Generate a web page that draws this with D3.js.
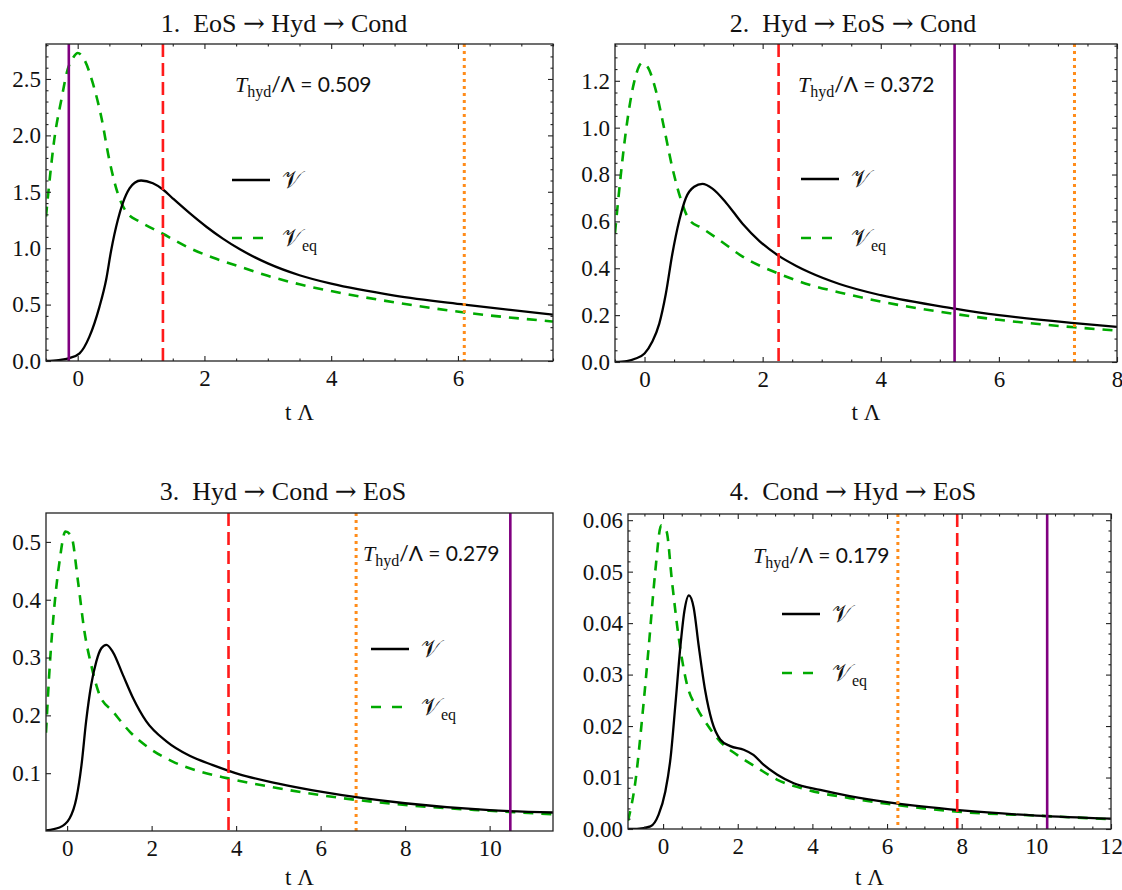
<!DOCTYPE html>
<html>
<head>
<meta charset="utf-8">
<script src="https://cdn.jsdelivr.net/npm/d3@7"></script>
<style>
body { margin: 0; background: #fff; }
svg text { font-family: "Liberation Serif", "DejaVu Serif", serif; fill: #111; }
</style>
</head>
<body>
<svg id="chart" width="1122" height="890"></svg>
<script>
// panel titles (steps in order) and the T_hyd / Lambda values
var titleNums = ["1.", "2.", "3.", "4."];
var titleSteps = [["EoS", "Hyd", "Cond"], ["Hyd", "EoS", "Cond"], ["Hyd", "Cond", "EoS"], ["Cond", "Hyd", "EoS"]];
var thyd = ["0.509", "0.372", "0.279", "0.179"];

// times (t Lambda) of the vertical markers
var eosTimes  = [-0.14, 5.25, 10.49, 10.29];   // purple, solid
var hydTimes  = [1.345, 2.27, 3.82, 7.88];     // red, dashed
var condTimes = [6.10, 7.28, 6.84, 6.29];      // orange, dotted

// axis ranges and tick labels
var xDomains = [[-0.5, 7.5], [-0.5, 8], [-0.5, 11.5], [-0.94, 12]];
var yDomains = [[0, 2.81], [0, 1.357], [0, 0.55], [0, 0.0612]];
var xTicks = [[0, 2, 4, 6], [0, 2, 4, 6, 8], [0, 2, 4, 6, 8, 10], [0, 2, 4, 6, 8, 10, 12]];
var yTicks = [[0, 0.5, 1, 1.5, 2, 2.5], [0, 0.2, 0.4, 0.6, 0.8, 1.0, 1.2],
              [0.1, 0.2, 0.3, 0.4, 0.5], [0, 0.01, 0.02, 0.03, 0.04, 0.05, 0.06]];
var yFormats = [".1f", ".1f", ".1f", ".2f"];

// panel 1 curves
var tV1  = [-0.5, -0.3, -0.14, 0.03, 0.185, 0.343, 0.449, 0.528, 0.633, 0.712, 0.818, 0.9, 1.0, 1.187, 1.345, 1.503, 1.767, 2.03, 2.29, 2.56, 3.0, 3.5, 4.0, 5.0, 6.1, 7.5];
var V1   = [0.0, 0.008, 0.024, 0.068, 0.216, 0.48, 0.72, 0.98, 1.25, 1.40, 1.53, 1.58, 1.60, 1.575, 1.52, 1.44, 1.31, 1.19, 1.085, 0.99, 0.865, 0.76, 0.685, 0.58, 0.50, 0.41];
var tEq1 = [-0.5, -0.44, -0.37, -0.26, -0.16, -0.07, 0.0, 0.106, 0.24, 0.37, 0.50, 0.63, 0.77, 0.98, 1.335, 1.77, 2.14, 2.51, 3.0, 3.5, 4.0, 5.0, 6.1, 7.5];
var Eq1  = [1.28, 1.62, 1.96, 2.31, 2.58, 2.69, 2.73, 2.67, 2.46, 2.17, 1.78, 1.49, 1.32, 1.235, 1.13, 1.0, 0.915, 0.845, 0.755, 0.68, 0.62, 0.52, 0.43, 0.35];

// panel 2 curves
var tV2  = [-0.5, -0.3, -0.15, 0.0, 0.13, 0.25, 0.36, 0.47, 0.59, 0.70, 0.84, 0.98, 1.15, 1.38, 1.66, 1.95, 2.26, 2.57, 2.79, 3.3, 4.0, 5.25, 6.0, 7.28, 8.0];
var V2   = [0.0, 0.004, 0.015, 0.036, 0.086, 0.164, 0.29, 0.46, 0.606, 0.70, 0.748, 0.76, 0.74, 0.68, 0.59, 0.515, 0.455, 0.41, 0.383, 0.333, 0.285, 0.228, 0.20, 0.166, 0.15];
var tEq2 = [-0.5, -0.43, -0.32, -0.18, -0.04, 0.05, 0.19, 0.33, 0.47, 0.62, 0.76, 0.98, 1.27, 1.66, 2.26, 2.79, 3.3, 4.0, 5.25, 6.0, 7.28, 8.0];
var Eq2  = [0.55, 0.73, 0.976, 1.19, 1.276, 1.26, 1.16, 1.0, 0.83, 0.69, 0.606, 0.57, 0.52, 0.45, 0.378, 0.33, 0.297, 0.258, 0.205, 0.18, 0.148, 0.134];

// panel 3 curves
var tV3  = [-0.5, -0.18, 0.06, 0.22, 0.34, 0.45, 0.57, 0.69, 0.81, 0.93, 1.08, 1.32, 1.56, 1.87, 2.35, 2.9, 3.45, 4.08, 5.0, 6.0, 8.0, 10.0, 11.5];
var V3   = [0.001, 0.006, 0.022, 0.057, 0.114, 0.19, 0.253, 0.293, 0.316, 0.322, 0.31, 0.27, 0.23, 0.19, 0.155, 0.13, 0.114, 0.098, 0.082, 0.068, 0.048, 0.036, 0.032];
var tEq3 = [-0.5, -0.41, -0.30, -0.18, -0.04, 0.10, 0.26, 0.41, 0.57, 0.77, 1.08, 1.48, 1.95, 2.5, 3.14, 3.81, 5.0, 6.0, 8.0, 10.0, 11.5];
var Eq3  = [0.17, 0.287, 0.39, 0.466, 0.518, 0.51, 0.43, 0.345, 0.287, 0.235, 0.207, 0.172, 0.143, 0.12, 0.103, 0.091, 0.074, 0.062, 0.045, 0.035, 0.029];

// panel 4 curves
var tV4  = [-0.94, -0.7, -0.34, -0.12, 0.06, 0.20, 0.33, 0.46, 0.57, 0.69, 0.82, 0.95, 1.13, 1.31, 1.53, 1.80, 2.16, 2.42, 2.69, 3.05, 3.50, 4.21, 5.0, 6.0, 8.0, 10.0, 12.0];
var V4   = [0, 0, 0.0005, 0.0028, 0.0073, 0.0138, 0.0242, 0.0352, 0.0423, 0.0454, 0.043, 0.0358, 0.0268, 0.0209, 0.0174, 0.0161, 0.0154, 0.0144, 0.0125, 0.0106, 0.0089, 0.0076, 0.0064, 0.0052, 0.0036, 0.0026, 0.0020];
var tEq4 = [-0.94, -0.74, -0.56, -0.38, -0.21, -0.05, 0.09, 0.24, 0.42, 0.64, 0.91, 1.18, 1.53, 1.98, 2.52, 3.05, 3.67, 4.21, 5.0, 6.0, 8.0, 10.0, 12.0];
var Eq4  = [0.0016, 0.0093, 0.0216, 0.0358, 0.050, 0.059, 0.0579, 0.048, 0.0371, 0.0281, 0.0235, 0.0203, 0.017, 0.0144, 0.0119, 0.0096, 0.008, 0.007, 0.006, 0.0049, 0.0033, 0.0026, 0.0019];

var curvesV  = [[tV1, V1], [tV2, V2], [tV3, V3], [tV4, V4]];
var curvesEq = [[tEq1, Eq1], [tEq2, Eq2], [tEq3, Eq3], [tEq4, Eq4]];

// where each panel sits on the page
var layout = [
  {l: 46,  r: 553,  t: 44,  b: 361, titleX: 284, titleY: 32,  note: [235, 92],  leg: [232, 180, 238], minorX: 0.5, minorY: 0.1,   labelY: 420},
  {l: 615, r: 1117, t: 44,  b: 362, titleX: 853, titleY: 32,  note: [798, 92],  leg: [801, 179, 238], minorX: 0.5, minorY: 0.05,  labelY: 420},
  {l: 46,  r: 553,  t: 513, b: 831, titleX: 283, titleY: 500, note: [363, 561], leg: [371, 649, 707], minorX: 0,   minorY: 0,     labelY: 885},
  {l: 628, r: 1111, t: 514, b: 829, titleX: 853, titleY: 500, note: [753, 563], leg: [782, 614, 673], minorX: 0.5, minorY: 0.002, labelY: 885}
];

var svg = d3.select("#chart");
var serif = "'Liberation Serif', 'DejaVu Serif', serif";
var fontSize = 23;

function minorTicks(domain, step, major) {
  if (!step) return [];
  var out = [];
  var start = Math.ceil(domain[0] / step - 1e-9);
  for (var k = start; k * step <= domain[1] + 1e-9; k++) {
    var v = +(k * step).toFixed(6);
    if (major.every(function(m){ return Math.abs(m - v) > 1e-9; })) out.push(v);
  }
  return out;
}

layout.forEach(function(L, i){

  var x = d3.scaleLinear().domain(xDomains[i]).range([L.l, L.r]);
  var y = d3.scaleLinear().domain(yDomains[i]).range([L.b, L.t]);
  var g = svg.append("g");
  var fullTicks = i != 2;   // panel 3 only has major ticks on left and bottom

  // clip for the curves
  g.append("clipPath").attr("id", "clip" + i)
    .append("rect").attr("x", L.l).attr("y", L.t).attr("width", L.r - L.l).attr("height", L.b - L.t);

  var plot = g.append("g").attr("clip-path", "url(#clip" + i + ")");

  var line = d3.line()
    .x(function(d){ return x(d[0]); })
    .y(function(d){ return y(d[1]); })
    .curve(d3.curveMonotoneX);

  // V_eq (green dashed)
  var eqPts = d3.zip(curvesEq[i][0], curvesEq[i][1]);
  plot.append("path").attr("d", line(eqPts))
    .attr("fill", "none").attr("stroke", "#00aa00").attr("stroke-width", 2.6)
    .attr("stroke-dasharray", "10,8");

  // V (black)
  var vPts = d3.zip(curvesV[i][0], curvesV[i][1]);
  plot.append("path").attr("d", line(vPts))
    .attr("fill", "none").attr("stroke", "#000").attr("stroke-width", 2.3);

  // event markers
  var markers = [
    {t: eosTimes[i],  color: "#800080", dash: null,   w: 2.6},
    {t: hydTimes[i],  color: "#ff1a1a", dash: "13,6", w: 2.6},
    {t: condTimes[i], color: "#ff8c1a", dash: "3,4",  w: 3}
  ];
  markers.forEach(function(m){
    plot.append("line")
      .attr("x1", x(m.t)).attr("x2", x(m.t))
      .attr("y1", L.t).attr("y2", L.b)
      .attr("stroke", m.color).attr("stroke-width", m.w)
      .attr("stroke-dasharray", m.dash);
  });

  // axes with inward ticks
  var fmt = d3.format(yFormats[i]);
  var bottom = d3.axisBottom(x).tickValues(xTicks[i]).tickFormat(d3.format("d"))
    .tickSizeInner(-5).tickSizeOuter(0).tickPadding(9);
  var left = d3.axisLeft(y).tickValues(yTicks[i]).tickFormat(fmt)
    .tickSizeInner(-5).tickSizeOuter(0).tickPadding(5);

  g.append("g").attr("transform", "translate(0," + L.b + ")").call(bottom);
  g.append("g").attr("transform", "translate(" + L.l + ",0)").call(left);

  if (fullTicks) {
    var top = d3.axisTop(x).tickValues(xTicks[i]).tickFormat("").tickSizeInner(-5).tickSizeOuter(0);
    var right = d3.axisRight(y).tickValues(yTicks[i]).tickFormat("").tickSizeInner(-5).tickSizeOuter(0);
    g.append("g").attr("transform", "translate(0," + L.t + ")").call(top);
    g.append("g").attr("transform", "translate(" + L.r + ",0)").call(right);

    var mx = minorTicks(xDomains[i], L.minorX, xTicks[i]);
    var my = minorTicks(yDomains[i], L.minorY, yTicks[i]);
    g.append("g").attr("transform", "translate(0," + L.b + ")")
      .call(d3.axisBottom(x).tickValues(mx).tickFormat("").tickSizeInner(-2.5).tickSizeOuter(0));
    g.append("g").attr("transform", "translate(0," + L.t + ")")
      .call(d3.axisTop(x).tickValues(mx).tickFormat("").tickSizeInner(-2.5).tickSizeOuter(0));
    g.append("g").attr("transform", "translate(" + L.l + ",0)")
      .call(d3.axisLeft(y).tickValues(my).tickFormat("").tickSizeInner(-2.5).tickSizeOuter(0));
    g.append("g").attr("transform", "translate(" + L.r + ",0)")
      .call(d3.axisRight(y).tickValues(my).tickFormat("").tickSizeInner(-2.5).tickSizeOuter(0));
  }

  g.selectAll(".domain").remove();
  g.selectAll(".tick line").attr("stroke", "#222").attr("stroke-width", 1.1);
  g.selectAll(".tick text")
    .style("font-family", serif).style("font-size", fontSize + "px").style("fill", "#111");

  // frame
  g.append("rect")
    .attr("x", L.l).attr("y", L.t).attr("width", L.r - L.l).attr("height", L.b - L.t)
    .attr("fill", "none").attr("stroke", "#222").attr("stroke-width", 1.3);

  // title, arrows taken from DejaVu because they are wider
  var title = g.append("text").attr("x", L.titleX).attr("y", L.titleY)
    .attr("text-anchor", "middle")
    .style("font-family", serif).style("font-size", "26px");
  title.append("tspan").text(titleNums[i] + "\u2002" + titleSteps[i][0] + " ");
  title.append("tspan").style("font-family", "'DejaVu Serif', serif").text("\u2192");
  title.append("tspan").text(" " + titleSteps[i][1] + " ");
  title.append("tspan").style("font-family", "'DejaVu Serif', serif").text("\u2192");
  title.append("tspan").text(" " + titleSteps[i][2]);

  // x axis label
  g.append("text").attr("x", (L.l + L.r) / 2).attr("y", L.labelY)
    .attr("text-anchor", "middle")
    .style("font-family", serif).style("font-size", fontSize + "px")
    .text("t \u039B");

  // T_hyd / Lambda note
  var note = g.append("text").attr("x", L.note[0]).attr("y", L.note[1])
    .style("font-family", serif).style("font-size", "22px");
  note.append("tspan").style("font-style", "italic").text("T");
  note.append("tspan").style("font-size", "16px").attr("dy", 5).text("hyd");
  note.append("tspan").attr("dy", -5).style("font-family", "Lato, 'Noto Sans', sans-serif")
    .style("font-size", "21px").text("/\u039B = " + thyd[i]);

  // legend
  g.append("line").attr("x1", L.leg[0]).attr("x2", L.leg[0] + 38)
    .attr("y1", L.leg[1]).attr("y2", L.leg[1])
    .attr("stroke", "#000").attr("stroke-width", 2.3);
  g.append("line").attr("x1", L.leg[0]).attr("x2", L.leg[0] + 31)
    .attr("y1", L.leg[2]).attr("y2", L.leg[2])
    .attr("stroke", "#00aa00").attr("stroke-width", 2.6).attr("stroke-dasharray", "10,11");

  g.append("text").attr("x", L.leg[0] + 50).attr("y", L.leg[1] + 8)
    .style("font-size", "24px").text("\uD835\uDCB1");
  var eq = g.append("text").attr("x", L.leg[0] + 50).attr("y", L.leg[2] + 8)
    .style("font-size", "24px");
  eq.append("tspan").text("\uD835\uDCB1");
  eq.append("tspan").style("font-family", serif).style("font-size", "16px").attr("dy", 5).text("eq");
});
</script>
</body>
</html>
